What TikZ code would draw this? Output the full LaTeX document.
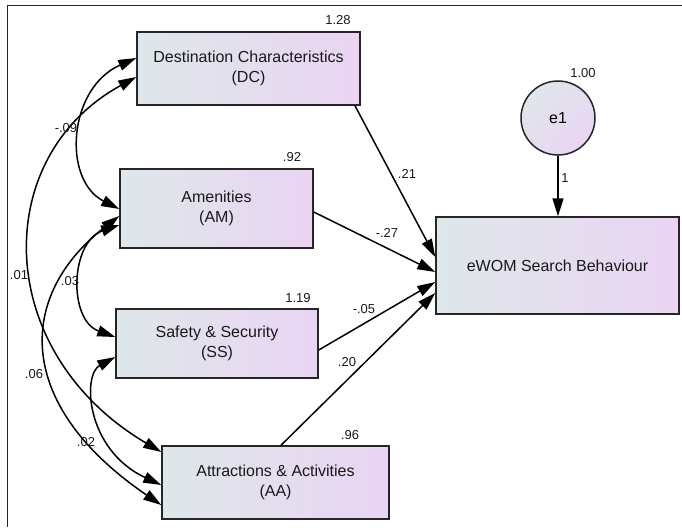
\documentclass[tikz,border=0pt]{standalone}
\usepackage{fontspec}
\setmainfont{Liberation Sans}
\usetikzlibrary{arrows.meta}

\definecolor{boxleft}{RGB}{222,231,233}
\definecolor{boxright}{RGB}{234,212,243}
\definecolor{edge}{RGB}{38,38,38}

\begin{document}
\begin{tikzpicture}[x=1pt,y=-1pt,
	obs/.style={draw=edge,line width=1.5pt,left color=boxleft,right color=boxright,
		align=center,inner sep=0pt,text=black!90,font=\fontsize{16}{20}\selectfont},
	err/.style={circle,draw=edge,line width=1.5pt,left color=boxleft,right color=boxright,
		shading angle=45,inner sep=0pt,minimum size=74pt,font=\fontsize{16}{20}\selectfont},
	est/.style={inner sep=0pt,text=black!90,font=\fontsize{13}{13}\selectfont},
	tip/.tip={Triangle[length=18pt,width=11pt]},
	regr/.style={line width=1.5pt,-tip},
	cov/.style={line width=1.5pt,tip-tip}]
	\useasboundingbox (0,0) rectangle (682,527);
	%% frame
	\draw[edge,line width=1pt] (682,6) -- (7,6) -- (7,527);
	%% observed variables
	\node[obs,minimum width=223pt,minimum height=73pt] (dc) at (248.5,68.5) {Destination Characteristics\\(DC)};
	\node[obs,minimum width=193pt,minimum height=79pt] (am) at (216.5,208.5) {Amenities\\(AM)};
	\node[obs,minimum width=202pt,minimum height=69pt] (ss) at (217,343.5) {Safety \& Security\\(SS)};
	\node[obs,minimum width=227pt,minimum height=73pt] (aa) at (275.5,482.5) {Attractions \& Activities\\(AA)};
	\node[obs,minimum width=243pt,minimum height=97pt] (ewom) at (557.5,265.5) {eWOM Search Behaviour};
	\node[err] (e1) at (558,118) {e1};
	%% variances
	\node[est] (vdc) at (338,20) {1.28};
	\node[est] (vam) at (292,157) {.92};
	\node[est] (vss) at (298,298) {1.19};
	\node[est] (vaa) at (350,435) {.96};
	\node[est] (ve1) at (583,73) {1.00};
	%% regression paths
	\draw[regr] ([xshift=106.5pt]dc.south) -- ([yshift=8.5pt]ewom.west);
	\draw[regr] ([yshift=-3.5pt]am.east) -- ([yshift=-6.5pt]ewom.west);
	\draw[regr] ([yshift=-6.5pt]ss.east) -- ([yshift=-16.5pt]ewom.west);
	\draw[regr] ([xshift=5.5pt]aa.north) -- ([yshift=-27.5pt]ewom.west);
	\draw[regr] (e1.south) -- (e1.south |- ewom.north);
	\node[est] (wdc) at (407,174) {.21};
	\node[est] (wam) at (387,233) {-.27};
	\node[est] (wss) at (364,309) {-.05};
	\node[est] (waa) at (347,362) {.20};
	\node[est] (we1) at (565,178) {1};
	%% covariances
	\draw[cov] ([yshift=10.5pt]dc.west) .. controls (68,88) and (62,180) .. ([yshift=-0.5pt]am.west);
	\draw[cov] ([yshift=-8.5pt]dc.west) .. controls (-10,157) and (-8,352) .. ([yshift=30.5pt]aa.west);
	\draw[cov] ([yshift=-16.5pt]am.west) .. controls (70,242) and (68,320) .. ([yshift=6.5pt]ss.west);
	\draw[cov] ([yshift=-7.5pt]am.west) .. controls (17,295) and (13,404) .. ([yshift=-22.5pt]aa.west);
	\draw[cov] ([yshift=-13.5pt]ss.west) .. controls (82,375) and (86,450) .. ([yshift=-2.5pt]aa.west);
	\node[est] (cdcam) at (66,128) {-.09};
	\node[est] (cdcaa) at (19,275) {.01};
	\node[est] (camss) at (70,281) {.03};
	\node[est] (camaa) at (34,374) {.06};
	\node[est] (cssaa) at (86,442) {.02};
\end{tikzpicture}
\end{document}
